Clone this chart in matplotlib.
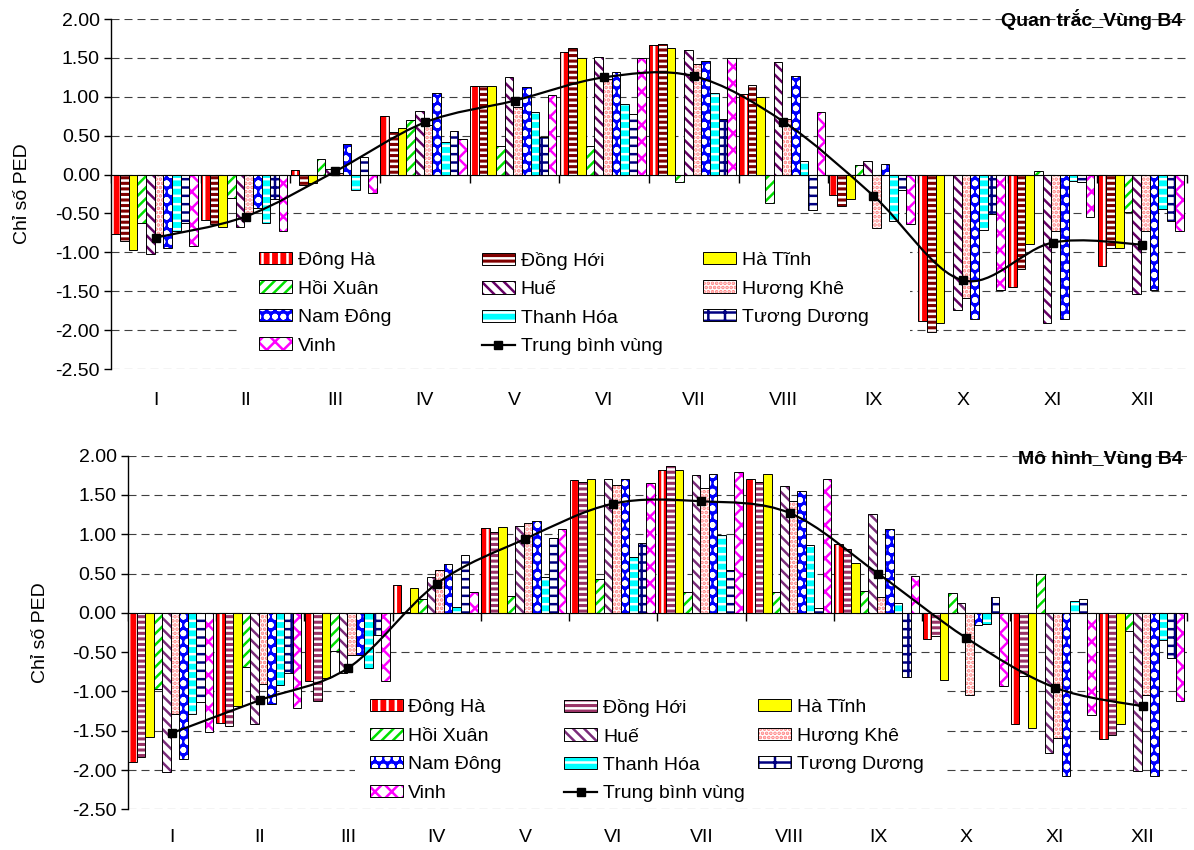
import numpy as np
import matplotlib
matplotlib.use("Agg")
import matplotlib.pyplot as plt
from matplotlib.patches import Patch, PathPatch, Rectangle
from matplotlib.lines import Line2D
from matplotlib.path import Path
from matplotlib.legend import Legend
from matplotlib.transforms import blended_transform_factory

plt.rcParams['font.family'] = ['Liberation Sans', 'DejaVu Sans']
plt.rcParams['font.size'] = 14
plt.rcParams['axes.unicode_minus'] = False
plt.rcParams['hatch.linewidth'] = 1.8

months = ['I', 'II', 'III', 'IV', 'V', 'VI', 'VII', 'VIII', 'IX', 'X', 'XI', 'XII']
stations = ['Đông Hà', 'Đồng Hới', 'Hà Tĩnh', 'Hồi Xuân', 'Huế', 'Hương Khê',
            'Nam Đông', 'Thanh Hóa', 'Tương Dương', 'Vinh']
avg_label = 'Trung bình vùng'

# Quan trac (observed)
obs = {
    'Đông Hà':     [-0.77, -0.59, 0.06, 0.75, 1.14, 1.58, 1.67, 1.04, -0.26, -1.88, -1.45, -1.18],
    'Đồng Hới':    [-0.85, -0.64, -0.13, 0.55, 1.14, 1.63, 1.68, 1.15, -0.40, -2.02, -1.21, -0.94],
    'Hà Tĩnh':     [-0.97, -0.68, -0.11, 0.60, 1.14, 1.50, 1.63, 1.00, -0.32, -1.91, -0.89, -0.95],
    'Hồi Xuân':    [-0.62, -0.30, 0.20, 0.70, 0.37, 0.37, -0.09, -0.36, 0.12, 0.00, 0.04, -0.48],
    'Huế':         [-1.02, -0.67, 0.07, 0.82, 1.26, 1.51, 1.60, 1.45, 0.17, -1.74, -1.91, -1.54],
    'Hương Khê':   [-0.78, -0.50, 0.02, 0.64, 0.87, 1.23, 1.42, 0.71, -0.69, -1.59, -0.72, -0.72],
    'Nam Đông':    [-0.94, -0.43, 0.39, 1.05, 1.12, 1.32, 1.46, 1.27, 0.14, -1.86, -1.86, -1.49],
    'Thanh Hóa':   [-0.72, -0.62, -0.20, 0.42, 0.80, 0.91, 1.05, 0.18, -0.60, -0.71, -0.08, -0.44],
    'Tương Dương': [-0.62, -0.32, 0.23, 0.56, 0.48, 0.78, 0.71, -0.45, -0.20, -0.51, -0.09, -0.60],
    'Vinh':        [-0.92, -0.73, -0.24, 0.46, 1.02, 1.50, 1.50, 0.81, -0.64, -1.49, -0.55, -0.72],
}
obs_avg = [-0.81, -0.54, 0.04, 0.67, 0.95, 1.25, 1.265, 0.68, -0.27, -1.36, -0.875, -0.90]

# Mo hinh (model)
mod = {
    'Đông Hà':     [-1.90, -1.40, -0.87, 0.35, 1.08, 1.69, 1.82, 1.70, 0.87, -0.33, -1.41, -1.60],
    'Đồng Hới':    [-1.83, -1.44, -1.12, 0.01, 1.03, 1.67, 1.87, 1.66, 0.81, -0.30, -0.80, -1.55],
    'Hà Tĩnh':     [-1.58, -1.19, -0.83, 0.32, 1.09, 1.70, 1.82, 1.77, 0.64, -0.85, -1.47, -1.41],
    'Hồi Xuân':    [-0.97, -0.69, -0.49, 0.17, 0.21, 0.43, 0.26, 0.26, 0.28, 0.25, 0.49, -0.23],
    'Huế':         [-2.03, -1.42, -0.76, 0.46, 1.11, 1.70, 1.76, 1.62, 1.26, 0.12, -1.78, -2.01],
    'Hương Khê':   [-1.29, -0.90, -0.53, 0.55, 1.14, 1.63, 1.59, 1.42, 0.20, -1.05, -1.59, -1.05],
    'Nam Đông':    [-1.86, -1.16, -0.54, 0.62, 1.17, 1.70, 1.77, 1.55, 1.07, -0.15, -2.08, -2.07],
    'Thanh Hóa':   [-1.29, -0.92, -0.70, 0.08, 0.45, 0.71, 0.99, 0.86, 0.13, -0.14, 0.15, -0.34],
    'Tương Dương': [-1.14, -0.76, -0.28, 0.74, 0.95, 0.89, 0.55, 0.06, -0.81, 0.20, 0.18, -0.58],
    'Vinh':        [-1.51, -1.21, -0.87, 0.27, 1.07, 1.65, 1.79, 1.70, 0.47, -0.93, -1.30, -1.12],
}
mod_avg = [-1.53, -1.11, -0.70, 0.37, 0.94, 1.39, 1.42, 1.27, 0.50, -0.32, -0.95, -1.19]


# (background, hatch colour, hatch)
def styles(dong_hoi_col, hue_col):
    return {
        'Đông Hà':     ('#FF0000', 'white', '||'),
        'Đồng Hới':    (dong_hoi_col, 'white', '---'),
        'Hà Tĩnh':     ('#FFFF00', '#FFFF00', ''),
        'Hồi Xuân':    ('white', '#00E000', '///'),
        'Huế':         ('white', hue_col, '\\\\\\'),
        'Hương Khê':   ('white', '#FF8080', '....'),
        'Nam Đông':    ('#0000FF', 'white', 'oo'),
        'Thanh Hóa':   ('#00FFFF', 'white', '--'),
        'Tương Dương': ('white', '#000080', '--|'),
        'Vinh':        ('white', '#FF00FF', 'xx'),
    }


class HatchHandler:
    def __init__(self, st):
        self.st = st

    def legend_artist(self, legend, orig_handle, fontsize, handlebox):
        bg, hc, hatch = self.st
        x0, y0 = -handlebox.xdescent, -handlebox.ydescent
        w, h = handlebox.width, handlebox.height
        tr = handlebox.get_transform()
        p = Rectangle((x0, y0), w, h, facecolor=bg, edgecolor=hc, hatch=hatch,
                      linewidth=0, transform=tr)
        o = Rectangle((x0, y0), w, h, fill=False, edgecolor='black',
                      linewidth=0.7, transform=tr)
        handlebox.add_artist(p)
        handlebox.add_artist(o)
        return p


W, H = 1194, 850
fig = plt.figure(figsize=(W / 100, H / 100), dpi=100)

bw = 0.0963


def smooth_path(x, y):
    verts = [(x[0], y[0])]
    codes = [Path.MOVETO]
    n = len(x)
    for i in range(n - 1):
        xa, ya = (x[i - 1], y[i - 1]) if i > 0 else (x[i], y[i])
        xb, yb = (x[i + 2], y[i + 2]) if i + 2 < n else (x[i + 1], y[i + 1])
        c1 = (x[i] + (x[i + 1] - xa) / 6, y[i] + (y[i + 1] - ya) / 6)
        c2 = (x[i + 1] - (xb - x[i]) / 6, y[i + 1] - (yb - y[i]) / 6)
        verts += [c1, c2, (x[i + 1], y[i + 1])]
        codes += [Path.CURVE4] * 3
    return Path(verts, codes)


def panel(rect, lab_y, title_y, data, avg, sty, title, leg_xs, leg_top, box):
    ax = fig.add_axes(rect)
    xm = np.arange(12)
    handles = []
    hmap = {}
    for i, st in enumerate(stations):
        bg, hc, hatch = sty[st]
        ax.bar(xm + 0.005 + i * bw, data[st], bw, align='edge',
               color=bg, edgecolor=hc, hatch=hatch, linewidth=0, zorder=2)
        ax.bar(xm + 0.005 + i * bw, data[st], bw, align='edge', fill=False,
               edgecolor='black', linewidth=0.7, zorder=2.1)
        hp = Patch(facecolor=bg)
        hmap[hp] = HatchHandler(sty[st])
        handles.append(hp)

    xc = xm + 0.5
    ax.add_patch(PathPatch(smooth_path(xc, avg), fill=False, edgecolor='black',
                           linewidth=1.6, zorder=4))
    ax.plot(xc, avg, 's', color='black', ms=5.5, zorder=5)
    handles.append(Line2D([], [], color='black', lw=1.6, marker='s', ms=5.5))
    labels = stations + [avg_label]

    ax.set_xlim(0, 12)
    ax.set_ylim(-2.5, 2.0)
    ax.set_yticks(np.arange(-2.5, 2.01, 0.5))
    ax.yaxis.set_major_formatter(matplotlib.ticker.FormatStrFormatter('%.2f'))
    ax.set_axisbelow(True)
    ax.yaxis.grid(True, color='#404040', linewidth=0.8, linestyle=(0, (7.2, 4.5)))
    ax.tick_params(axis='y', direction='out', length=5, width=1, labelsize=14, pad=3)
    ax.set_xticks(range(13))
    ax.tick_params(axis='x', direction='out', length=5.5, width=1, labelbottom=False)
    for s in ['top', 'right']:
        ax.spines[s].set_visible(False)
    ax.spines['bottom'].set_position(('data', 0))
    ax.spines['bottom'].set_zorder(3)
    ax.spines['left'].set_linewidth(1)
    ax.set_ylabel('Chỉ số PED', fontsize=14)
    ax.yaxis.set_label_coords(-0.074, 0.5)

    tr = blended_transform_factory(ax.transData, ax.transAxes)
    for m, lab in zip(xc, months):
        ax.text(m, lab_y, lab, transform=tr, ha='center', va='center', fontsize=14)

    ax.text(0.996, title_y, title, transform=ax.transAxes, ha='right', va='center',
            fontsize=14, fontweight='bold')

    # white legend background
    bx0, by0, bx1, by1 = box
    ax.add_patch(Rectangle((bx0 / W, 1 - by1 / H), (bx1 - bx0) / W, (by1 - by0) / H,
                           transform=fig.transFigure, facecolor='white',
                           edgecolor='none', zorder=1))

    cols = [[0, 3, 6, 9], [1, 4, 7, 10], [2, 5, 8]]
    for x, idx in zip(leg_xs, cols):
        leg = Legend(ax, [handles[k] for k in idx], [labels[k] for k in idx],
                     handler_map=hmap,
                     loc='upper left', bbox_to_anchor=(x / W, 1 - leg_top / H),
                     bbox_transform=fig.transFigure, frameon=False,
                     borderpad=0, borderaxespad=0, handlelength=1.7,
                     handleheight=0.6, handletextpad=0.3, labelspacing=0.59,
                     fontsize=14)
        leg.set_zorder(6)
        ax.add_artist(leg)
    return ax


top_rect = [111 / W, 1 - 369 / H, (1187 - 111) / W, (369 - 19) / H]
panel(top_rect, -0.0886, 1.0, obs, obs_avg, styles('#800000', '#660066'),
      'Quan trắc_Vùng B4', [259, 481.7, 703], 252, (237, 238, 910, 364))

bot_rect = [127.7 / W, 1 - 809.3 / H, (1187 - 127.7) / W, (809.3 - 455.7) / H]
panel(bot_rect, -0.081, 0.99, mod, mod_avg, styles('#993366', '#7A2C7A'),
      'Mô hình_Vùng B4', [369.5, 564, 758], 699, (355, 684, 945, 804))

fig.savefig('out.png', dpi=100)
